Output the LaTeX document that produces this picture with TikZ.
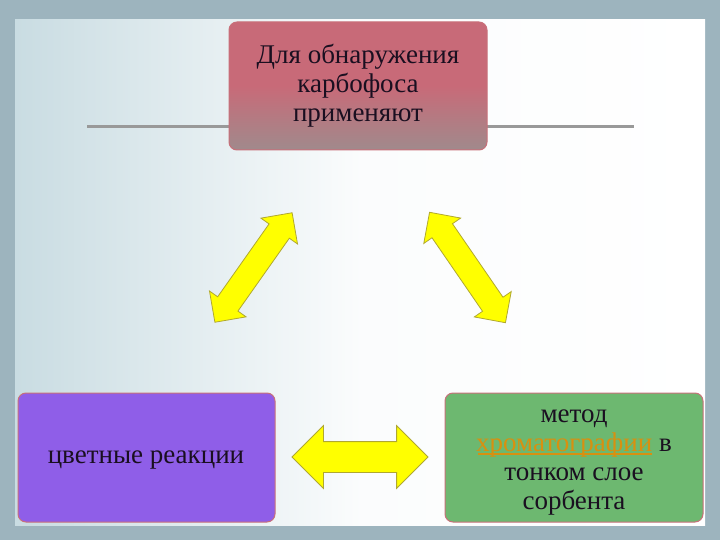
\documentclass[tikz,border=0pt]{standalone}
\usepackage{fontspec}
\setmainfont{Liberation Serif}
\usetikzlibrary{shapes.arrows}
\definecolor{bgout}{HTML}{9DB4BE}
\definecolor{bgin}{HTML}{C9DCE2}
\definecolor{topc}{HTML}{C86A78}
\definecolor{topb}{HTML}{A08A8C}
\definecolor{purp}{HTML}{8F5EE8}
\definecolor{grn}{HTML}{6DB870}
\definecolor{edge}{HTML}{C8707A}
\definecolor{arrowc}{HTML}{FFFF00}
\definecolor{arrowb}{HTML}{B0A830}
\definecolor{orng}{HTML}{D89010}
\definecolor{txt}{HTML}{1A0F20}
\tikzset{
 boxs/.style={rounded corners=8pt, draw=edge, line width=1pt, inner sep=0},
 dbl/.style={double arrow, draw=arrowb, fill=arrowc, line width=0.8pt, inner xsep=0pt},
 lbl/.style={font=\fontsize{27}{29}\selectfont, text=txt, align=center},
}
\begin{document}
\begin{tikzpicture}[x=1pt,y=-1pt]
\useasboundingbox (0,0) rectangle (720,540);
\fill[bgout] (0,0) rectangle (720,540);
\shade[left color=bgin, right color=white, middle color=white!92!bgin] (15,20) rectangle (705,525);
\draw[gray!80, line width=3pt] (87,127) -- (634,127);
\shade[boxs, top color=topc, bottom color=topb, middle color=topc] (229,22) rectangle (487,150);
\node[lbl] (top) at (358,86) {Для обнаружения\\карбофоса\\применяют};
\fill[boxs, fill=purp] (18,393) rectangle (275,522);
\node[lbl] (left) at (146,460) {цветные реакции};
\fill[boxs, fill=grn] (445,393) rectangle (703,522);
\node[lbl] (right) at (574,463) {метод\\{\color{orng}хроматографии} в\\тонком слое\\сорбента};
\coordinate (u1) at (478,454);
\coordinate (u2) at (652,454);
\draw[orng, line width=1.2pt] (u1) -- (u2);
\node[dbl, inner ysep=12pt, minimum height=134pt, double arrow head extend=10pt, rotate=54.8] (a1) at (253.5,267.5) {};
\node[dbl, inner ysep=12pt, minimum height=134pt, double arrow head extend=10pt, rotate=124.5] (a2) at (467.5,267.5) {};
\node[dbl, inner ysep=15pt, minimum height=136pt, double arrow head extend=16pt] (a3) at (360,457) {};
\end{tikzpicture}
\end{document}
